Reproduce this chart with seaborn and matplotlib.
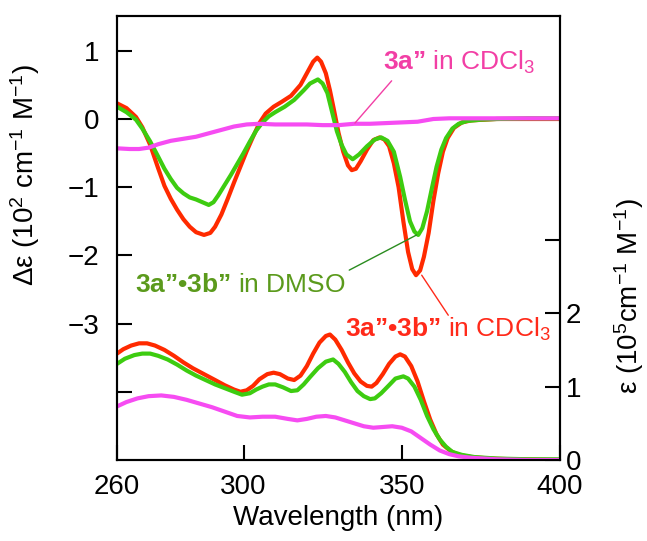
#!/usr/bin/env python3
import matplotlib
matplotlib.use("Agg")
import matplotlib.pyplot as plt
import seaborn as sns
import pandas as pd

sns.set_style("ticks")
plt.rcParams['font.family'] = ['Liberation Sans', 'DejaVu Sans']
plt.rcParams['mathtext.fontset'] = 'custom'
plt.rcParams['mathtext.rm'] = 'Liberation Sans'
plt.rcParams['mathtext.it'] = 'Liberation Sans:italic'
plt.rcParams['mathtext.bf'] = 'Liberation Sans:bold'
for key in ('text.color', 'axes.labelcolor', 'xtick.color', 'ytick.color', 'axes.edgecolor'):
    plt.rcParams[key] = 'black'

# CD spectra (delta epsilon, 10^2 cm-1 M-1)
cd_red_wl = [260, 263, 266, 268, 270.5, 273, 275, 277, 279, 281, 283, 285, 287.5, 289.5, 291,
             293, 295, 297, 299, 301, 303, 305, 307, 309.5, 312, 315, 318, 320, 322, 323.3,
             324.5, 326, 327.3, 328.5, 330, 331.5, 333, 334.2, 335.5, 337, 339, 341, 343,
             344.5, 346, 347.5, 349, 350.5, 352, 353.3, 354.5, 355.8, 357, 358.5, 360, 361.5,
             363, 364.5, 366.5, 369, 372, 376, 380, 390, 400]
cd_red = [0.23, 0.16, 0.03, -0.12, -0.38, -0.72, -0.98, -1.17, -1.33, -1.47, -1.58, -1.66, -1.70,
          -1.67, -1.58, -1.40, -1.17, -0.93, -0.70, -0.47, -0.26, -0.06, 0.08, 0.18, 0.25, 0.34,
          0.50, 0.67, 0.84, 0.90, 0.84, 0.67, 0.42, 0.15, -0.20, -0.48, -0.68, -0.75, -0.73,
          -0.62, -0.45, -0.31, -0.27, -0.30, -0.40, -0.65, -1.00, -1.50, -1.95, -2.20, -2.29,
          -2.22, -2.02, -1.67, -1.20, -0.80, -0.48, -0.28, -0.13, -0.05, -0.02, -0.01, 0.0, 0.0, 0.0]

cd_green_wl = [260, 263, 266, 268, 270.5, 273, 275, 277, 279, 281, 283, 285, 287, 289, 290.5,
               292, 294, 296, 298, 300, 302, 304, 306, 308, 310, 313, 316, 319, 321, 323.5, 325,
               326.5, 328, 329.5, 331, 332.5, 334.5, 336.5, 339, 341.5, 343.5, 345.5, 347.5,
               349.5, 351, 352.6, 354, 355.2, 356.5, 358, 359.5, 361, 362.5, 364, 366, 368,
               370.5, 375, 380, 390, 400]
cd_green = [0.18, 0.10, -0.01, -0.14, -0.33, -0.55, -0.73, -0.88, -1.01, -1.09, -1.15, -1.18,
            -1.22, -1.26, -1.22, -1.12, -0.97, -0.82, -0.66, -0.50, -0.33, -0.17, -0.05, 0.04,
            0.10, 0.18, 0.28, 0.42, 0.52, 0.58, 0.52, 0.38, 0.10, -0.18, -0.38, -0.52, -0.59,
            -0.52, -0.40, -0.30, -0.27, -0.32, -0.48, -0.85, -1.18, -1.50, -1.65, -1.70, -1.60,
            -1.35, -1.02, -0.70, -0.45, -0.28, -0.14, -0.07, -0.03, -0.01, 0.0, 0.01, 0.01]

cd_pink_wl = [260, 264, 267, 270, 273, 277, 281, 285, 289, 293, 297, 301, 305, 310, 315, 320,
              325, 330, 335, 340, 345, 350, 355, 360, 365, 370, 380, 390, 400]
cd_pink = [-0.43, -0.44, -0.44, -0.42, -0.37, -0.32, -0.29, -0.26, -0.21, -0.16, -0.11, -0.08,
           -0.07, -0.08, -0.08, -0.08, -0.09, -0.09, -0.07, -0.07, -0.06, -0.05, -0.04, 0.0,
           0.01, 0.01, 0.01, 0.01, 0.01]

# UV spectra (epsilon, 10^5 cm-1 M-1)
uv_red_wl = [260, 262, 264.5, 267, 269.5, 272, 275, 278, 281, 284, 287.5, 291, 294, 297, 299,
             301, 303, 305, 307.5, 309.5, 311.5, 314, 316, 318, 320, 322, 324, 326, 327.3, 329,
             331, 333, 335, 337, 339, 340.5, 342, 344, 346, 348, 349.5, 351, 353, 355, 357,
             359, 361, 363, 365.5, 368, 372, 378, 385, 400]
uv_red = [1.45, 1.51, 1.56, 1.59, 1.59, 1.56, 1.50, 1.42, 1.33, 1.25, 1.17, 1.09, 1.02, 0.96,
          0.93, 0.95, 1.01, 1.10, 1.17, 1.19, 1.17, 1.11, 1.09, 1.15, 1.28, 1.45, 1.60, 1.69,
          1.71, 1.64, 1.50, 1.33, 1.18, 1.07, 1.01, 1.00, 1.05, 1.17, 1.31, 1.41, 1.44, 1.41,
          1.28, 1.07, 0.80, 0.55, 0.35, 0.21, 0.12, 0.07, 0.04, 0.02, 0.01, 0.0]

uv_green_wl = [260, 262.5, 265.5, 268, 270.5, 273, 276, 279, 282, 285, 288, 291, 294, 297,
               299.5, 302, 304, 306, 308, 310, 312.5, 315, 317, 319, 321, 323.5, 326, 328.3,
               330, 332, 334, 336, 338, 340, 341.5, 343.5, 346, 348, 350.5, 352, 354, 356, 358,
               360, 362, 364, 366, 369, 373, 380, 390, 400]
uv_green = [1.31, 1.38, 1.43, 1.45, 1.45, 1.42, 1.37, 1.30, 1.22, 1.15, 1.09, 1.03, 0.98, 0.93,
            0.89, 0.91, 0.96, 1.00, 1.03, 1.03, 0.99, 0.94, 0.95, 1.03, 1.13, 1.25, 1.34, 1.37,
            1.31, 1.20, 1.06, 0.94, 0.87, 0.83, 0.84, 0.91, 1.02, 1.11, 1.14, 1.11, 1.00, 0.82,
            0.60, 0.42, 0.28, 0.18, 0.11, 0.07, 0.04, 0.02, 0.01, 0.01]

uv_pink_wl = [260, 263, 266.5, 270, 274, 278, 282, 286, 290, 294, 298, 302, 306, 310, 314, 317,
              320, 323, 326, 329, 332, 335, 338, 341, 344, 347, 350, 353, 356, 359, 362, 365,
              368, 372, 380, 390, 400]
uv_pink = [0.73, 0.79, 0.84, 0.87, 0.88, 0.86, 0.82, 0.77, 0.72, 0.66, 0.60, 0.58, 0.59, 0.59,
           0.56, 0.54, 0.56, 0.59, 0.60, 0.58, 0.54, 0.50, 0.46, 0.44, 0.45, 0.46, 0.44, 0.39,
           0.30, 0.21, 0.13, 0.08, 0.05, 0.03, 0.01, 0.0, 0.0]

x_ticks = [260, 300, 350, 400]
cd_ticks = [1, 0, -1, -2, -3, -4]
cd_ticklabels = ['1', '0', '\u22121', '\u22122', '\u22123', '']
uv_ticks = [0, 1, 2, 3]
uv_ticklabels = ['0', '1', '2', '']

RED = '#ff2a00'
GREEN = '#3dcc10'
PINK = '#f64cf2'


def spectrum(wl, vals):
    return pd.DataFrame({'wl': wl, 'val': vals})


def main():
    fig = plt.figure(figsize=(6.47, 5.41), dpi=100)
    ax = fig.add_axes([0.1808, 0.1497, 0.6847, 0.8207])
    ax2 = ax.twinx()

    lw = 3.0
    sns.lineplot(data=spectrum(cd_red_wl, cd_red), x='wl', y='val', ax=ax, color=RED, lw=lw, sort=False)
    sns.lineplot(data=spectrum(cd_green_wl, cd_green), x='wl', y='val', ax=ax, color=GREEN, lw=lw, sort=False)
    sns.lineplot(data=spectrum(cd_pink_wl, cd_pink), x='wl', y='val', ax=ax, color=PINK, lw=lw, sort=False)

    sns.lineplot(data=spectrum(uv_red_wl, uv_red), x='wl', y='val', ax=ax2, color=RED, lw=lw, sort=False)
    sns.lineplot(data=spectrum(uv_green_wl, uv_green), x='wl', y='val', ax=ax2, color=GREEN, lw=lw, sort=False)
    sns.lineplot(data=spectrum(uv_pink_wl, uv_pink), x='wl', y='val', ax=ax2, color=PINK, lw=lw, sort=False)

    ax.set_xlim(260, 400)
    ax.set_ylim(-5.0, 1.51)
    ax2.set_ylim(0, 6.05)

    ax.set_xticks(x_ticks)
    ax.set_yticks(cd_ticks)
    ax.set_yticklabels(cd_ticklabels)
    ax2.set_yticks(uv_ticks)
    ax2.set_yticklabels(uv_ticklabels)

    for a in (ax, ax2):
        for s in a.spines.values():
            s.set_linewidth(1.5)
            s.set_color('black')
    ax.tick_params(axis='x', direction='in', length=11, width=1.5, labelsize=20, pad=10)
    ax.tick_params(axis='y', direction='in', length=11, width=1.5, labelsize=20, pad=13)
    ax2.tick_params(axis='y', direction='in', length=11, width=1.5, labelsize=20, pad=4)

    ax.set_xlabel('Wavelength (nm)', fontsize=20, labelpad=4)
    ax.set_ylabel('\u0394\u03b5 (10$^2$ cm$^{\u22121}$ M$^{\u22121}$)', fontsize=20)
    ax.yaxis.set_label_coords(-0.169, 0.642)
    ax2.set_ylabel('\u03b5 (10$^5$cm$^{\u22121}$ M$^{\u22121}$)', fontsize=20)
    ax2.yaxis.set_label_coords(1.118, 0.37)

    # labels with leader lines
    ax.text(344.1, 0.72, '$\\mathbf{3a\u201d}$ in CDCl$_3$', color='#f23fa5', fontsize=19)
    ax.annotate('', xy=(335.2, -0.06), xytext=(346.8, 0.56),
                arrowprops=dict(arrowstyle='-', color='#f23fa5', lw=1, shrinkA=0, shrinkB=0))
    ax.text(265.7, -2.53, '$\\mathbf{3a\u201d\u20223b\u201d}$ in DMSO', color='#5b9a1c', fontsize=19)
    ax.annotate('', xy=(354.7, -1.70), xytext=(333.4, -2.216),
                arrowprops=dict(arrowstyle='-', color='#2a8c1f', lw=1, shrinkA=0, shrinkB=0))
    ax.text(332.1, -3.195, '$\\mathbf{3a\u201d\u20223b\u201d}$ in CDCl$_3$', color='#ff2a1a', fontsize=19)
    ax.annotate('', xy=(356.3, -2.29), xytext=(364.7, -2.877),
                arrowprops=dict(arrowstyle='-', color='#ff2a1a', lw=1, shrinkA=0, shrinkB=0))

    fig.savefig('out.png', dpi=100)


if __name__ == "__main__":
    main()
